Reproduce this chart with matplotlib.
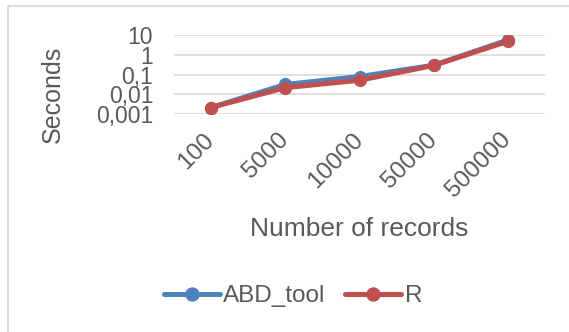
import numpy as np
import matplotlib.pyplot as plt
from matplotlib.patches import Rectangle

plt.rcParams['font.family'] = ['Liberation Sans', 'DejaVu Sans']

records = ['100', '5000', '10000', '50000', '500000']
abd_tool = [0.0022, 0.032, 0.08, 0.30, 5.6]
r_times = [0.0022, 0.022, 0.052, 0.29, 4.8]
ytick_vals = [0.001, 0.01, 0.1, 1, 10]
ytick_labels = ['0,001', '0,01', '0,1', '1', '10']

blue = '#4F81BD'
red = '#C0504D'
grey_txt = '#595959'
grid_col = '#D9D9D9'

fig = plt.figure(figsize=(5.69, 3.32), dpi=100)
ax = fig.add_axes([174/569, 1-114.3/332, (545-174)/569, (114.3-35)/332])

x = np.arange(len(records))
ax.plot(x, abd_tool, color=blue, lw=3.6, marker='o', ms=8.5, label='ABD_tool',
        solid_capstyle='round')
ax.plot(x, r_times, color=red, lw=3.6, marker='o', ms=8.5, label='R',
        solid_capstyle='round')

ax.set_yscale('log')
ax.set_ylim(0.001, 10)
ax.set_xlim(-0.5, len(records) - 0.5)
ax.set_yticks(ytick_vals)
ax.set_yticklabels(ytick_labels)
ax.minorticks_off()
ax.set_xticks(x)
ax.set_xticklabels(records, rotation=45, ha='right', va='center',
                   rotation_mode='anchor')
ax.tick_params(axis='y', length=0, pad=15, labelsize=16.5, labelcolor=grey_txt)
ax.tick_params(axis='x', length=0, pad=16, labelsize=17.5, labelcolor=grey_txt)
ax.grid(axis='y', color=grid_col, lw=1.2)
ax.set_axisbelow(True)
for s in ax.spines.values():
    s.set_visible(False)

fig.text(53/569, 1-94/332, 'Seconds', rotation=90, ha='center', va='center',
         fontsize=18, color=grey_txt)
fig.text(359/569, 1-229/332, 'Number of records', ha='center', va='center',
         fontsize=19, color=grey_txt)

leg = fig.legend(loc='center', bbox_to_anchor=(293/569, 1-296/332), ncol=2,
                 frameon=False, fontsize=17.5, handlelength=2.3, handletextpad=0.15,
                 columnspacing=0.8, borderpad=0, markerscale=1.1)
for t in leg.get_texts():
    t.set_color(grey_txt)

fig.patches.append(Rectangle((8/569, -0.1), 1.2, 1-6/332+0.1, transform=fig.transFigure,
                             fill=False, edgecolor=grid_col, lw=1.3))

fig.savefig('out.png', dpi=100)
